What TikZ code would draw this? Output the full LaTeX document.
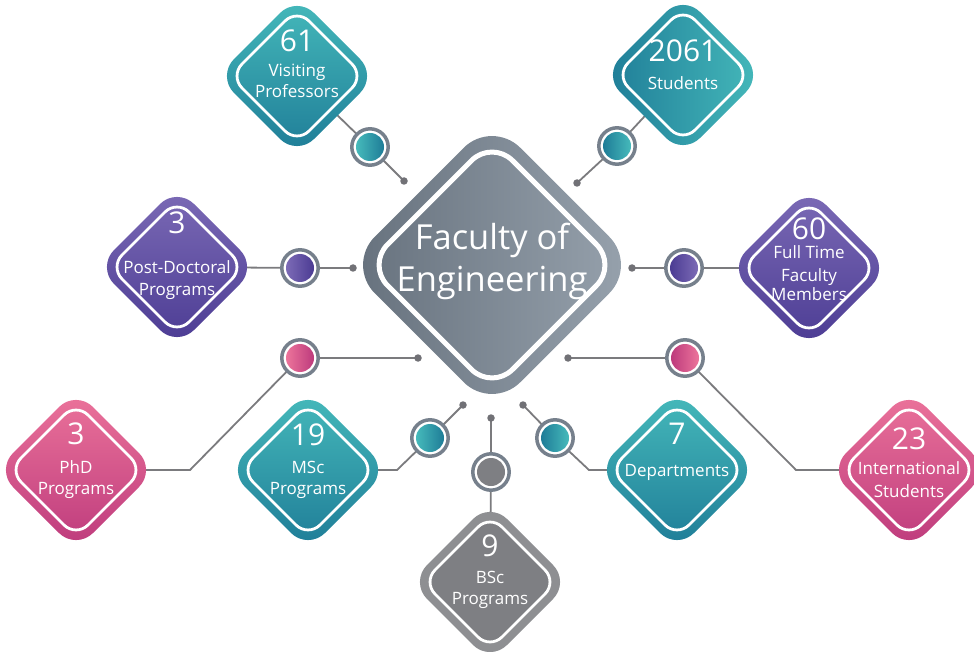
\documentclass[tikz,border=0pt]{standalone}
\usepackage{fontspec}
\setmainfont{Open Sans}
\usetikzlibrary{shapes.geometric}
\pgfdeclarelayer{bg}
\pgfsetlayers{bg,main}
\definecolor{tealL}{HTML}{46BABB}
\definecolor{tealD}{HTML}{1E7C97}
\definecolor{purL}{HTML}{7C6BB6}
\definecolor{purD}{HTML}{4B3B93}
\definecolor{pinkL}{HTML}{EC749B}
\definecolor{pinkD}{HTML}{BD3A7C}
\definecolor{grayO}{HTML}{8E8F92}
\definecolor{grayI}{HTML}{7E7F83}
\definecolor{cenL}{HTML}{65707C}
\definecolor{cenR}{HTML}{98A3AE}
\definecolor{ringc}{HTML}{76808C}
\definecolor{linec}{HTML}{7B7B7E}
\definecolor{dotc}{HTML}{717176}
\tikzset{
  sdia/.style={diamond, inner sep=0pt, outer sep=0pt, minimum width=160pt, minimum height=160pt, rounded corners=24pt},
  sline/.style={diamond, draw=white, line width=2.8pt, inner sep=0pt, outer sep=0pt, minimum width=134pt, minimum height=134pt, rounded corners=17pt},
  gteal/.style={top color=tealL, bottom color=tealD},
  gtealh/.style={left color=tealD, right color=tealL},
  gpur/.style={top color=purL, bottom color=purD},
  gpink/.style={top color=pinkL, bottom color=pinkD},
  hub/.style={circle, draw=ringc, line width=3.5pt, fill=white, minimum size=36.4pt, inner sep=0pt},
  jdot/.style={circle, fill=dotc, minimum size=7.5pt, inner sep=0pt},
  conn/.style={draw=linec, line width=1.8pt},
  numtxt/.style={text=white, font=\fontsize{30}{30}\selectfont, anchor=base, inner sep=0pt},
  labtxt/.style={text=white, font=\fontsize{17}{17}\selectfont, anchor=base, inner sep=0pt},
  bigtxt/.style={text=white, font=\fontsize{34.5}{34.5}\selectfont, anchor=base, inner sep=0pt}
}
\newcommand\hubfill[3]{\shade[left color=#2, right color=#3] (#1.center) circle (14pt);}
\begin{document}
\begin{tikzpicture}[x=1pt,y=-1pt]
\useasboundingbox (0,0) rectangle (974,652);

% central
\node[diamond, inner sep=0pt, outer sep=0pt, minimum width=291pt, minimum height=291pt, rounded corners=40pt, left color=cenL, right color=cenR] (fac) at (492,265) {};
\node[diamond, draw=white, line width=5pt, inner sep=0pt, minimum width=252pt, minimum height=252pt, rounded corners=29pt] (fac-in) at (fac.center) {};
\node[bigtxt] (fac-t1) at (492,250) {Faculty of};
\node[bigtxt] (fac-t2) at (492,291) {Engineering};

% diamonds
\node[sdia, gteal] (vp) at (297,76) {};
\node[sline] (vp-in) at (vp.center) {};
\node[numtxt] (vp-n) at (297,52) {61};
\node[labtxt] (vp-l1) at (297,77) {Visiting};
\node[labtxt] (vp-l2) at (297,98) {Professors};

\node[sdia, gtealh] (st) at (683,75) {};
\node[sline] (st-in) at (st.center) {};
\node[numtxt] (st-n) at (683,62) {2061};
\node[labtxt] (st-l1) at (683,90) {Students};

\node[sdia, gpur] (pd) at (177,267) {};
\node[sline] (pd-in) at (pd.center) {};
\node[numtxt] (pd-n) at (177,234) {3};
\node[labtxt] (pd-l1) at (177,274) {Post-Doctoral};
\node[labtxt] (pd-l2) at (177,295) {Programs};

\node[sdia, gpur] (ft) at (809,268) {};
\node[sline] (ft-in) at (ft.center) {};
\node[numtxt] (ft-n) at (809,240) {60};
\node[labtxt] (ft-l1) at (809,259) {Full Time};
\node[labtxt] (ft-l2) at (809,281) {Faculty};
\node[labtxt] (ft-l3) at (809,301) {Members};

\node[sdia, gpink] (phd) at (76,470) {};
\node[sline] (phd-in) at (phd.center) {};
\node[numtxt] (phd-n) at (76,444) {3};
\node[labtxt] (phd-l1) at (76,473) {PhD};
\node[labtxt] (phd-l2) at (76,494) {Programs};

\node[sdia, gteal] (msc) at (308,470) {};
\node[sline] (msc-in) at (msc.center) {};
\node[numtxt] (msc-n) at (308,445) {19};
\node[labtxt] (msc-l1) at (308,473) {MSc};
\node[labtxt] (msc-l2) at (308,494) {Programs};

\node[sdia, fill=grayO] (bsc) at (490,582) {};
\node[sline, fill=grayI] (bsc-in) at (bsc.center) {};
\node[numtxt] (bsc-n) at (490,556) {9};
\node[labtxt] (bsc-l1) at (490,583) {BSc};
\node[labtxt] (bsc-l2) at (490,604) {Programs};

\node[sdia, gteal] (dep) at (677,470) {};
\node[sline] (dep-in) at (dep.center) {};
\node[numtxt] (dep-n) at (677,444) {7};
\node[labtxt] (dep-l1) at (677,476) {Departments};

\node[sdia, gpink] (int) at (909,470) {};
\node[sline] (int-in) at (int.center) {};
\node[numtxt] (int-n) at (909,449) {23};
\node[labtxt] (int-l1) at (909,474) {International};
\node[labtxt] (int-l2) at (909,497) {Students};

% hubs
\node[hub] (vpc) at (370,147) {};  \hubfill{vpc}{tealL}{tealD}
\node[hub] (stc) at (617,146) {};  \hubfill{stc}{tealD}{tealL}
\node[hub] (pdc) at (300,268) {};  \hubfill{pdc}{purL}{purD}
\node[hub] (ftc) at (684,268) {};  \hubfill{ftc}{purD}{purL}
\node[hub] (phdc) at (300,358) {}; \hubfill{phdc}{pinkL}{pinkD}
\node[hub] (intc) at (685,358) {}; \hubfill{intc}{pinkD}{pinkL}
\node[hub] (mscc) at (430,438) {}; \hubfill{mscc}{tealL}{tealD}
\node[hub] (depc) at (555,438) {}; \hubfill{depc}{tealD}{tealL}
\node[hub] (bscc) at (491,472) {}; \hubfill{bscc}{grayI}{grayI}

% dots
\node[jdot] (vpd) at (404,181) {};
\node[jdot] (std) at (577,183) {};
\node[jdot] (pdd) at (353,268) {};
\node[jdot] (ftd) at (632,268) {};
\node[jdot] (phdd) at (418,358) {};
\node[jdot] (intd) at (568,358) {};
\node[jdot] (mscd) at (463,405) {};
\node[jdot] (depd) at (523,405) {};
\node[jdot] (bscd) at (491,418) {};

% bends
\coordinate (phdb) at (190,470);
\coordinate (intb) at (796,470);
\coordinate (mscb) at (397,470);
\coordinate (depb) at (589,470);

\begin{pgfonlayer}{bg}
\draw[conn] (vp.center) -- (vpc.center) -- (vpd.center);
\draw[conn] (st.center) -- (stc.center) -- (std.center);
\draw[conn] (pd.center) -- (pdc.center) -- (pdd.center);
\draw[conn] (ft.center) -- (ftc.center) -- (ftd.center);
\draw[conn] (phd.center) -- (phdb) -- (phdc.center) -- (phdd.center);
\draw[conn] (int.center) -- (intb) -- (intc.center) -- (intd.center);
\draw[conn] (msc.center) -- (mscb) -- (mscc.center) -- (mscd.center);
\draw[conn] (dep.center) -- (depb) -- (depc.center) -- (depd.center);
\draw[conn] (bsc.center) -- (bscc.center) -- (bscd.center);
\end{pgfonlayer}
\end{tikzpicture}
\end{document}
